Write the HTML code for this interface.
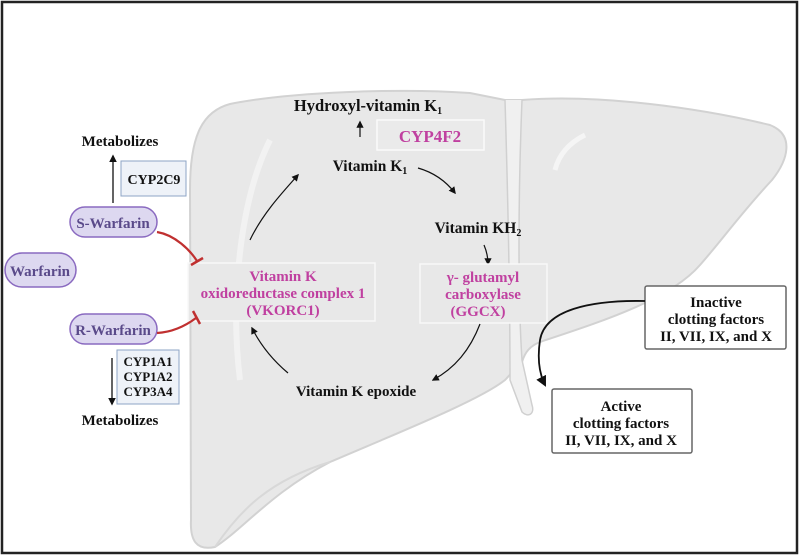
<!DOCTYPE html>
<html><head><meta charset="utf-8"><style>
html,body{margin:0;padding:0;background:#fff}
svg{display:block}
text{font-family:"Liberation Serif",serif;font-weight:bold}
</style></head><body>
<svg width="800" height="557" viewBox="0 0 800 557" xmlns="http://www.w3.org/2000/svg">
<defs>
<marker id="a" viewBox="0 0 10 10" refX="8" refY="5" markerWidth="6" markerHeight="6" orient="auto"><path d="M0,0 L10,5 L0,10 z" fill="#111"/></marker>
</defs>
<rect x="2" y="2" width="795" height="551" fill="#fff" stroke="#222" stroke-width="2.5"/>
<!-- liver -->
<path d="M230,104 C290,92 400,88 470,93 L505,100 L522,100 C600,94 700,108 770,125 C795,135 788,160 772,180 C742,212 722,240 700,265 C670,300 600,322 540,342 C530,346 525,352 522,362 L505,380 C480,400 400,432 330,462 C272,492 242,530 215,547 C196,551 190,540 191,520 L190,190 C190,140 200,112 230,104 Z" fill="#e8e8e8" stroke="#d2d2d2" stroke-width="2"/>
<path d="M505,100 C508,200 510,300 510,380 L522,412 C528,418 535,414 532,405 L522,360 C518,300 518,200 522,100" fill="#f0f0f0" stroke="#d0d0d0" stroke-width="1.5"/>
<path d="M240,380 C230,300 240,200 270,140" stroke="#f2f2f2" stroke-width="6" fill="none"/>
<path d="M555,170 C560,150 575,140 585,135" stroke="#f5f5f5" stroke-width="5" fill="none"/>
<path d="M215,547 C240,510 270,480 330,462" stroke="#d8d8d8" stroke-width="2" fill="none"/>
<!-- left side -->
<text x="120" y="146" font-size="15" text-anchor="middle" fill="#111">Metabolizes</text>
<line x1="113" y1="203" x2="113" y2="156" stroke="#111" stroke-width="1.3" marker-end="url(#a)"/>
<rect x="121" y="161" width="65" height="35" fill="#eef2f8" stroke="#8ea4c6"/>
<text x="154" y="184" font-size="14" text-anchor="middle" fill="#111">CYP2C9</text>
<rect x="70" y="207" width="87" height="30" rx="15" fill="#ddd8f0" stroke="#8a6ac0" stroke-width="1.5"/>
<text x="113" y="228" font-size="15" text-anchor="middle" fill="#5a4a8a">S-Warfarin</text>
<rect x="5" y="253" width="71" height="34" rx="17" fill="#ddd8f0" stroke="#8a6ac0" stroke-width="1.5"/>
<text x="40" y="276" font-size="15" text-anchor="middle" fill="#5a4a8a">Warfarin</text>
<rect x="70" y="314" width="87" height="30" rx="15" fill="#ddd8f0" stroke="#8a6ac0" stroke-width="1.5"/>
<text x="113" y="335" font-size="15" text-anchor="middle" fill="#5a4a8a">R-Warfarin</text>
<rect x="117" y="350" width="62" height="54" fill="#eef2f8" stroke="#8ea4c6"/>
<text x="148" y="366" font-size="13" text-anchor="middle" fill="#111">CYP1A1</text>
<text x="148" y="381" font-size="13" text-anchor="middle" fill="#111">CYP1A2</text>
<text x="148" y="396" font-size="13" text-anchor="middle" fill="#111">CYP3A4</text>
<line x1="112" y1="358" x2="112" y2="404" stroke="#111" stroke-width="1.3" marker-end="url(#a)"/>
<text x="120" y="425" font-size="15" text-anchor="middle" fill="#111">Metabolizes</text>
<!-- cycle -->
<text x="368" y="111" font-size="16.5" text-anchor="middle" fill="#111">Hydroxyl-vitamin K<tspan font-size="10" dy="3">1</tspan></text>
<line x1="360" y1="137" x2="360" y2="122" stroke="#111" stroke-width="1.2" marker-end="url(#a)"/>
<rect x="377" y="120" width="107" height="30" fill="#eaeaea" stroke="#fafafa" stroke-width="1.5"/>
<text x="430" y="142" font-size="17" text-anchor="middle" fill="#c040a0">CYP4F2</text>
<text x="370" y="171" font-size="15.5" text-anchor="middle" fill="#111">Vitamin K<tspan font-size="10" dy="3">1</tspan></text>
<path d="M418,168 C432,172 445,180 455,193" stroke="#111" stroke-width="1.2" fill="none" marker-end="url(#a)"/>
<path d="M250,240 C262,215 280,195 298,175" stroke="#111" stroke-width="1.2" fill="none" marker-end="url(#a)"/>
<text x="478" y="233" font-size="15.5" text-anchor="middle" fill="#111">Vitamin KH<tspan font-size="10" dy="3">2</tspan></text>
<path d="M484,245 C487,252 488,258 488,264" stroke="#111" stroke-width="1.2" fill="none" marker-end="url(#a)"/>
<rect x="188" y="263" width="187" height="58" fill="#e8e8e8" stroke="#f8f8f8" stroke-width="1.5"/>
<text x="283" y="281" font-size="15" text-anchor="middle" fill="#c040a0">Vitamin K</text>
<text x="283" y="298" font-size="15" text-anchor="middle" fill="#c040a0">oxidoreductase complex 1</text>
<text x="283" y="315" font-size="15" text-anchor="middle" fill="#c040a0">(VKORC1)</text>
<!-- inhibition -->
<path d="M157,232 C175,235 190,250 197,261" stroke="#c03030" stroke-width="2.2" fill="none"/>
<line x1="191" y1="265" x2="203" y2="258" stroke="#c03030" stroke-width="2.5"/>
<path d="M157,333 C175,332 188,324 196,318" stroke="#c03030" stroke-width="2.2" fill="none"/>
<line x1="193" y1="311" x2="200" y2="324" stroke="#c03030" stroke-width="2.5"/>
<rect x="420" y="264" width="127" height="59" fill="#e8e8e8" stroke="#f8f8f8" stroke-width="1.5"/>
<text x="483" y="282" font-size="15" text-anchor="middle" fill="#c040a0">γ- glutamyl</text>
<text x="483" y="299" font-size="15" text-anchor="middle" fill="#c040a0">carboxylase</text>
<text x="478" y="316" font-size="15" text-anchor="middle" fill="#c040a0">(GGCX)</text>
<path d="M480,324 C470,350 455,368 433,380" stroke="#111" stroke-width="1.2" fill="none" marker-end="url(#a)"/>
<path d="M288,373 C275,362 262,348 252,328" stroke="#111" stroke-width="1.2" fill="none" marker-end="url(#a)"/>
<text x="356" y="396" font-size="15" text-anchor="middle" fill="#111">Vitamin K epoxide</text>
<!-- clotting -->
<rect x="645" y="286" width="141" height="63" rx="2" fill="#fff" stroke="#666" stroke-width="1.5"/>
<text x="716" y="307" font-size="15" text-anchor="middle" fill="#111">Inactive</text>
<text x="716" y="324" font-size="15" text-anchor="middle" fill="#111">clotting factors</text>
<text x="716" y="341" font-size="15" text-anchor="middle" fill="#111">II, VII, IX, and X</text>
<path d="M645,301 C590,300 545,310 540,340 C537,360 540,375 545,385" stroke="#111" stroke-width="1.8" fill="none" marker-end="url(#a)"/>
<rect x="552" y="389" width="140" height="64" rx="2" fill="#fff" stroke="#666" stroke-width="1.5"/>
<text x="621" y="411" font-size="15" text-anchor="middle" fill="#111">Active</text>
<text x="621" y="428" font-size="15" text-anchor="middle" fill="#111">clotting factors</text>
<text x="621" y="445" font-size="15" text-anchor="middle" fill="#111">II, VII, IX, and X</text>
</svg>
</body></html>
